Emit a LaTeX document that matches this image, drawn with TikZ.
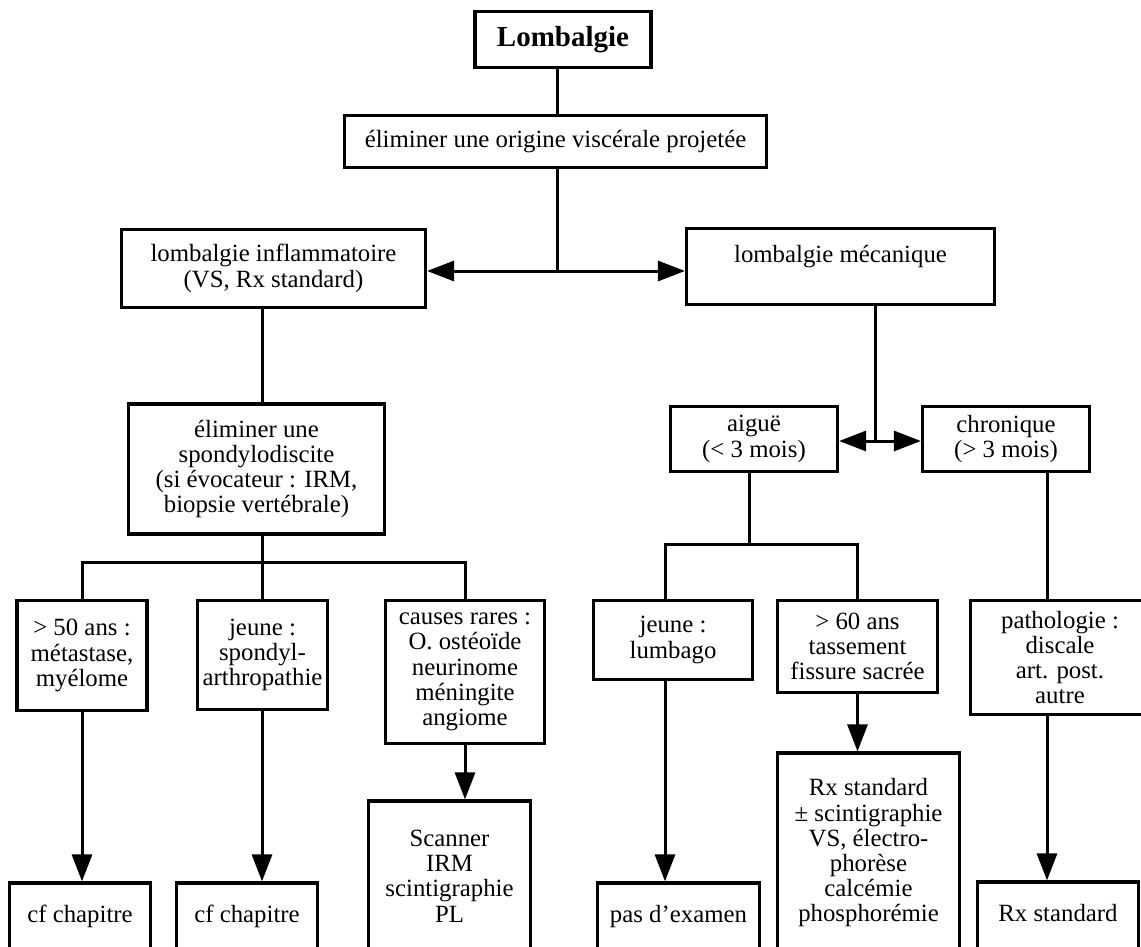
\documentclass[tikz,border=0pt]{standalone}
\usepackage{fontspec}
\setmainfont{Liberation Serif}
\usetikzlibrary{arrows.meta}

\begin{document}
\begin{tikzpicture}[x=0.5pt, y=-0.5pt,
    boite/.style={draw, line width=1.6pt, inner sep=0pt, align=center,
      font=\fontsize{12.4}{12.6}\selectfont},
    lien/.style={line width=1.5pt},
    fleche/.style={lien, -{Triangle[length=13.5pt, width=10pt]}},
    dfleche/.style={lien, {Triangle[length=13.5pt, width=10pt]}-{Triangle[length=13.5pt, width=10pt]}}]

    \useasboundingbox (0,0) rectangle (1141,947);
    \clip (0,0) rectangle (1141,947);

    % Sommet de l'arbre
    \node[boite, minimum width=88pt, minimum height=28pt,
      font=\fontsize{14.5}{15}\selectfont\bfseries] (lomb) at (563,39.5) {Lombalgie};
    \node[boite, minimum width=211pt, minimum height=26pt] (orig) at (555.5,141.5)
      {éliminer une origine viscérale projetée};

    % Points de branchement
    \coordinate (j1) at (557,271);
    \coordinate (j2) at (262,562);
    \coordinate (j3) at (875,441);
    \coordinate (j4) at (749,544);
    \coordinate (j5) at (665,544);
    \coordinate (j6) at (1047,540);

    % Deux grandes familles
    \node[boite, minimum width=152pt, minimum height=39pt] (inflam) at (273.5,268.5)
      {lombalgie inflammatoire\\(VS, Rx standard)};
    \node[boite, minimum width=154pt, minimum height=38pt] (meca) at (840.5,266.5)
      {lombalgie mécanique\\~};

    % Branche inflammatoire
    \node[boite, minimum width=128pt, minimum height=65pt] (spondy) at (256.5,469)
      {éliminer une\\spondylodiscite\\(si évocateur : IRM,\\biopsie vertébrale)};
    \node[boite, minimum width=65pt, minimum height=55pt] (b1) at (82,655.5)
      {> 50 ans :\\métastase,\\myélome};
    \node[boite, minimum width=65pt, minimum height=54.5pt] (b2) at (262.5,655)
      {jeune :\\spondyl-\\arthropathie};
    \node[boite, minimum width=79.5pt, minimum height=71.5pt] (b3) at (465,672)
      {causes rares :\\O. ostéoïde\\neurinome\\méningite\\angiome};
    \node[boite, minimum width=70.5pt, minimum height=43pt] (cf1) at (80,926)
      {cf chapitre\\~};
    \node[boite, minimum width=70.5pt, minimum height=43pt] (cf2) at (247,926)
      {cf chapitre\\~};
    \node[boite, minimum width=81pt, minimum height=75pt] (scan) at (449.5,876)
      {Scanner\\IRM\\scintigraphie\\PL};

    % Branche mécanique
    \node[boite, minimum width=83.5pt, minimum height=32.5pt] (aigue) at (754,439)
      {aiguë\\(< 3 mois)};
    \node[boite, minimum width=83.5pt, minimum height=32.5pt] (chron) at (1006,439)
      {chronique\\(> 3 mois)};
    \node[boite, minimum width=79.5pt, minimum height=39.5pt] (lumb) at (673,640)
      {jeune :\\lumbago};
    \node[boite, minimum width=80pt, minimum height=46pt] (sixty) at (857.5,646.5)
      {> 60 ans\\tassement\\fissure sacrée};
    \node[boite, minimum width=89.5pt, minimum height=57pt] (patho) at (1060,657.5)
      {pathologie :\\discale\\art. post.\\autre};
    \node[boite, minimum width=81pt, minimum height=43pt] (pas) at (678.5,926)
      {pas d’examen\\~};
    \node[boite, minimum width=91pt, minimum height=100pt] (rxa) at (868.5,853)
      {Rx standard\\± scintigraphie\\VS, électro-\\phorèse\\calcémie\\phosphorémie};
    \node[boite, minimum width=80.5pt, minimum height=43pt] (rxb) at (1058,925)
      {Rx standard\\~};

    % Liaisons du haut
    \draw[lien] (lomb.south -| j1) -- (orig.north -| j1);
    \draw[lien] (orig.south -| j1) -- (j1);
    \draw[dfleche] (inflam.east |- j1) -- (meca.west |- j1);

    % Liaisons inflammatoires
    \draw[lien] (inflam.south -| j2) -- (spondy.north -| j2);
    \draw[lien] (spondy.south -| j2) -- (j2);
    \draw[lien] (j2) -| (b1.north);
    \draw[lien] (j2) -- (b2.north -| j2);
    \draw[lien] (j2) -| (b3.north);
    \draw[fleche] (b1.south) -- (b1.south |- cf1.north);
    \draw[fleche] (b2.south -| j2) -- (cf2.north -| j2);
    \draw[fleche] (b3.south) -- (b3.south |- scan.north);

    % Liaisons mécaniques
    \draw[lien] (meca.south -| j3) -- (j3);
    \draw[dfleche] (aigue.east |- j3) -- (chron.west |- j3);
    \draw[lien] (aigue.south -| j4) -- (j4);
    \draw[lien] (j4) -- (j5) -- (lumb.north -| j5);
    \draw[lien] (j4) -| (sixty.north);
    \draw[fleche] (lumb.south -| j5) -- (pas.north -| j5);
    \draw[fleche] (sixty.south) -- (sixty.south |- rxa.north);
    \draw[lien] (chron.south -| j6) -- (patho.north -| j6);
    \draw[fleche] (patho.south -| j6) -- (rxb.north -| j6);
\end{tikzpicture}
\end{document}
